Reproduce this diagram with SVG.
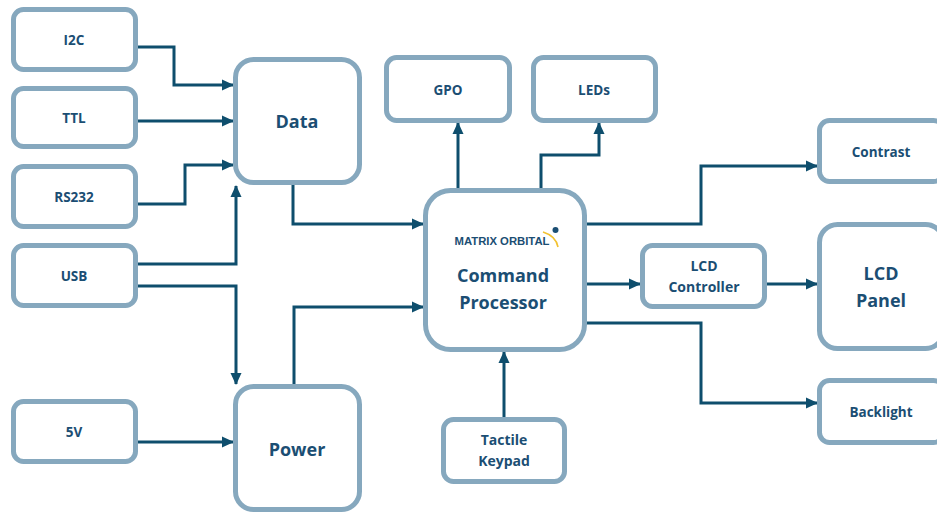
<svg xmlns="http://www.w3.org/2000/svg" width="937" height="512" viewBox="0 0 937 512">
<defs>
<style>
.box{fill:#ffffff;stroke:#86A8BE;stroke-width:5}
.t{font-family:"Open Sans","DejaVu Sans",sans-serif;font-weight:700;fill:#1B4E73;text-anchor:middle}
.s{font-size:13.5px}
.m{font-size:14px}
.b{font-size:18px}
.c{fill:none;stroke:#0E4E6D;stroke-width:3}
</style>
<marker id="ah" viewBox="0 0 12 12" refX="11" refY="6" markerWidth="12" markerHeight="12" markerUnits="userSpaceOnUse" orient="auto">
<path d="M0,0.5 L12,6 L0,11.5 z" fill="#0E4E6D"/>
</marker>
</defs>
<rect width="937" height="512" fill="#ffffff"/>
<g id="connectors">
<path class="c" marker-end="url(#ah)" d="M138,47 H174 V85 H233"/>
<path class="c" marker-end="url(#ah)" d="M138,121 H233"/>
<path class="c" marker-end="url(#ah)" d="M138,204 H185 V165 H233"/>
<path class="c" marker-end="url(#ah)" d="M138,264 H236 V186"/>
<path class="c" marker-end="url(#ah)" d="M138,286 H236 V384"/>
<path class="c" marker-end="url(#ah)" d="M138,442 H233"/>
<path class="c" marker-end="url(#ah)" d="M293,185 V224 H423"/>
<path class="c" marker-end="url(#ah)" d="M294,384 V307 H423"/>
<path class="c" marker-end="url(#ah)" d="M458,188 V123"/>
<path class="c" marker-end="url(#ah)" d="M541,188 V155 H599 V123"/>
<path class="c" marker-end="url(#ah)" d="M587,224 H701 V166 H817"/>
<path class="c" marker-end="url(#ah)" d="M587,284 H640"/>
<path class="c" marker-end="url(#ah)" d="M767,284 H817"/>
<path class="c" marker-end="url(#ah)" d="M587,323 H701 V403 H817"/>
<path class="c" marker-end="url(#ah)" d="M504,417 V352"/>
</g>
<g id="i2c"><rect class="box" x="13.5" y="9.5" width="122" height="60" rx="10"/><text class="t s" x="74" y="45">I2C</text></g>
<g id="ttl"><rect class="box" x="13.5" y="88.5" width="122" height="58" rx="10"/><text class="t s" x="74" y="123">TTL</text></g>
<g id="rs232"><rect class="box" x="13.5" y="166.5" width="122" height="60" rx="10"/><text class="t s" x="74" y="202">RS232</text></g>
<g id="usb"><rect class="box" x="13.5" y="245.5" width="122" height="60" rx="10"/><text class="t s" x="74" y="281">USB</text></g>
<g id="v5"><rect class="box" x="13.5" y="401.5" width="122" height="60" rx="10"/><text class="t s" x="74" y="437">5V</text></g>
<g id="data"><rect class="box" x="235.5" y="59.5" width="124" height="123" rx="18"/><text class="t b" x="297" y="128">Data</text></g>
<g id="power"><rect class="box" x="235.5" y="386.5" width="124" height="123" rx="18"/><text class="t b" x="297" y="456">Power</text></g>
<g id="cp"><rect class="box" x="425.5" y="190.5" width="159" height="159" rx="25"/>
<text x="502" y="245" font-family="'Liberation Sans',Arial,sans-serif" font-weight="700" font-size="11" fill="#1B4E73" text-anchor="middle" textLength="95" lengthAdjust="spacingAndGlyphs">MATRIX ORBITAL</text>
<path d="M543,232 Q556,236 558,247" fill="none" stroke="#F2C230" stroke-width="1.6"/>
<circle cx="555.5" cy="230" r="3" fill="#1B4E73"/>
<text class="t b" x="503" y="282">Command</text><text class="t b" x="503" y="309">Processor</text></g>
<g id="gpo"><rect class="box" x="386.5" y="57.5" width="123" height="63" rx="10"/><text class="t s" x="448" y="95">GPO</text></g>
<g id="leds"><rect class="box" x="533.5" y="57.5" width="122" height="63" rx="10"/><text class="t s" x="594" y="95">LEDs</text></g>
<g id="keypad"><rect class="box" x="443.5" y="419.5" width="121" height="62" rx="10"/><text class="t m" x="504" y="445">Tactile</text><text class="t m" x="504" y="466">Keypad</text></g>
<g id="lcdc"><rect class="box" x="642.5" y="245.5" width="122" height="61" rx="10"/><text class="t m" x="704" y="271">LCD</text><text class="t m" x="704" y="292">Controller</text></g>
<g id="contrast"><rect class="box" x="819.5" y="120.5" width="124" height="61" rx="10"/><text class="t s" x="881" y="157">Contrast</text></g>
<g id="panel"><rect class="box" x="819.5" y="224.5" width="124" height="124" rx="18"/><text class="t b" x="881" y="280">LCD</text><text class="t b" x="881" y="307">Panel</text></g>
<g id="backlight"><rect class="box" x="819.5" y="380.5" width="124" height="62" rx="10"/><text class="t s" x="881" y="417">Backlight</text></g>
</svg>
